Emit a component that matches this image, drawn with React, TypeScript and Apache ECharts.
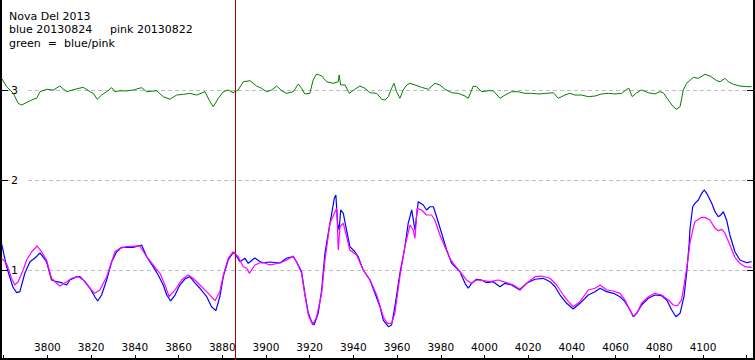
import React, { useEffect, useRef } from "react";
import * as echarts from "echarts";

// ---- Data ----
const titleLine1 = "Nova Del 2013";
const titleBlue = "blue 20130824";
const titlePink = "pink 20130822";
const titleLine3 = "green  =  blue/pink";

const xLabelValues = [3800, 3820, 3840, 3860, 3880, 3900, 3920, 3940, 3960, 3980, 4000, 4020, 4040, 4060, 4080, 4100];
const xTickValues = [3780, 3800, 3820, 3840, 3860, 3880, 3900, 3920, 3940, 3960, 3980, 4000, 4020, 4040, 4060, 4080, 4100, 4120];
const yLabelValues = [1, 2, 3];
const markerWavelength = 3886;

const blueWl = [3779.0,3781.3,3784.2,3785.9,3787.4,3789.7,3792.0,3794.3,3796.6,3797.9,3799.6,3801.9,3804.2,3806.5,3808.8,3810.3,3813.4,3814.9,3817.2,3819.5,3821.7,3823.0,3824.8,3827.1,3829.4,3831.7,3834.0,3836.2,3839.3,3843.1,3845.4,3848.4,3850.7,3853.0,3854.6,3856.4,3858.4,3860.6,3862.9,3865.2,3867.5,3869.8,3872.9,3875.1,3877.1,3878.9,3880.5,3882.7,3884.8,3885.8,3888.1,3890.4,3891.9,3894.9,3898.2,3901.8,3906.4,3909.6,3912.5,3914.0,3916.3,3917.8,3919.4,3920.9,3922.0,3923.9,3925.5,3927.0,3928.5,3930.1,3931.3,3932.0,3932.8,3933.5,3934.2,3935.4,3936.9,3938.4,3940.7,3942.2,3944.5,3947.6,3949.9,3952.2,3953.7,3956.0,3957.5,3959.0,3961.3,3963.6,3965.1,3966.7,3968.2,3969.7,3972.0,3973.5,3975.1,3976.6,3978.1,3980.4,3982.7,3985.0,3988.8,3991.1,3992.6,3994.1,3996.4,3998.7,4001.0,4004.0,4007.1,4009.4,4012.4,4016.2,4019.3,4023.1,4026.9,4030.0,4032.3,4034.6,4037.6,4040.6,4043.7,4047.5,4050.6,4052.9,4055.9,4059.0,4062.0,4064.3,4066.6,4068.1,4069.7,4071.9,4075.0,4078.0,4081.1,4083.4,4085.7,4087.6,4089.5,4091.3,4092.5,4093.7,4094.0,4095.3,4096.3,4097.9,4099.4,4100.5,4101.7,4104.0,4105.5,4107.0,4108.1,4109.3,4110.8,4112.3,4114.6,4116.9,4120.0,4122.3];
const blueVal = [1.297,1.037,0.811,0.748,0.759,0.967,1.092,1.133,1.189,1.148,1.092,0.889,0.870,0.859,0.833,0.889,0.926,0.926,0.870,0.797,0.703,0.656,0.722,0.889,1.092,1.203,1.252,1.252,1.252,1.278,1.148,1.037,0.944,0.833,0.722,0.656,0.722,0.833,0.900,0.926,0.856,0.797,0.703,0.592,0.548,0.703,0.926,1.111,1.186,1.186,1.092,1.130,1.074,1.133,1.078,1.089,1.078,1.133,1.148,1.092,0.981,0.741,0.519,0.426,0.389,0.519,0.778,1.186,1.408,1.630,1.797,1.833,1.519,1.444,1.667,1.630,1.444,1.259,1.203,1.148,1.000,0.889,0.741,0.592,0.444,0.370,0.389,0.592,0.963,1.259,1.519,1.667,1.444,1.759,1.722,1.667,1.703,1.703,1.592,1.408,1.222,1.074,0.981,0.852,0.797,0.852,0.897,0.889,0.859,0.870,0.814,0.852,0.833,0.778,0.852,0.897,0.908,0.870,0.814,0.722,0.630,0.567,0.630,0.722,0.759,0.797,0.759,0.741,0.703,0.648,0.556,0.481,0.519,0.611,0.686,0.722,0.714,0.667,0.556,0.481,0.519,0.703,0.963,1.297,1.444,1.703,1.741,1.778,1.852,1.889,1.852,1.741,1.648,1.592,1.611,1.648,1.556,1.389,1.203,1.111,1.081,1.092];

const pinkWl = [3779.0,3781.3,3783.6,3785.1,3786.6,3788.9,3790.5,3792.8,3795.3,3797.3,3799.6,3801.9,3804.2,3805.7,3808.8,3811.1,3814.1,3816.4,3819.5,3821.7,3824.0,3827.1,3829.4,3830.9,3833.2,3836.2,3842.3,3845.4,3848.4,3851.5,3853.8,3855.7,3858.4,3861.4,3864.4,3866.7,3869.8,3873.6,3876.7,3878.9,3880.5,3882.7,3885.0,3887.3,3889.6,3891.2,3892.4,3894.9,3898.2,3901.8,3906.4,3909.6,3912.5,3914.0,3916.3,3917.8,3919.4,3921.4,3923.2,3925.5,3927.0,3929.3,3931.6,3932.4,3933.1,3933.9,3935.4,3936.9,3938.4,3941.5,3944.5,3947.6,3950.7,3953.7,3955.5,3957.5,3959.0,3961.3,3963.6,3965.9,3967.4,3968.2,3969.2,3971.2,3973.5,3975.8,3977.3,3979.6,3981.9,3984.2,3985.7,3988.8,3991.8,3994.1,3996.4,3999.4,4002.5,4006.3,4010.2,4013.2,4016.2,4019.3,4023.1,4026.2,4030.0,4033.0,4036.1,4038.4,4040.6,4043.7,4047.5,4050.6,4052.9,4055.9,4059.0,4062.0,4064.3,4066.6,4068.1,4069.7,4071.9,4075.0,4078.0,4081.1,4084.1,4086.4,4088.2,4090.2,4091.7,4093.3,4094.0,4095.3,4096.3,4097.9,4099.4,4100.9,4103.2,4105.5,4107.0,4108.6,4110.1,4112.3,4114.6,4116.9,4119.2,4122.3];
const pinkVal = [1.130,1.074,0.908,0.833,0.870,1.000,1.111,1.203,1.267,1.203,1.111,0.908,0.852,0.822,0.870,0.908,0.926,0.889,0.797,0.741,0.778,0.926,1.092,1.203,1.241,1.259,1.267,1.148,1.056,0.963,0.833,0.703,0.778,0.889,0.944,0.908,0.833,0.741,0.659,0.759,0.944,1.130,1.203,1.148,1.037,1.019,0.963,1.056,1.089,1.056,1.078,1.111,1.156,1.092,0.963,0.722,0.500,0.389,0.481,0.741,1.111,1.519,1.648,1.685,1.222,1.481,1.519,1.370,1.222,1.167,1.000,0.889,0.722,0.481,0.408,0.408,0.519,0.926,1.259,1.500,1.444,1.352,1.685,1.667,1.611,1.611,1.556,1.389,1.259,1.130,1.074,0.981,0.889,0.852,0.889,0.881,0.870,0.889,0.859,0.833,0.786,0.852,0.926,0.933,0.908,0.833,0.722,0.648,0.592,0.648,0.778,0.797,0.833,0.778,0.767,0.741,0.667,0.556,0.489,0.519,0.630,0.703,0.741,0.722,0.667,0.611,0.600,0.667,0.889,1.148,1.297,1.444,1.537,1.563,1.585,1.585,1.556,1.463,1.437,1.452,1.408,1.278,1.141,1.074,1.037,1.030];

const greenWl = [3779.0,3781.3,3784.4,3786.6,3788.2,3791.2,3793.5,3795.1,3796.6,3799.6,3802.7,3805.7,3808.8,3812.6,3816.4,3819.5,3821.0,3822.8,3824.8,3827.1,3829.4,3830.9,3833.2,3836.2,3839.3,3843.1,3845.4,3850.0,3853.0,3856.1,3859.1,3862.2,3865.2,3868.3,3872.1,3874.4,3875.9,3878.2,3880.5,3882.7,3885.0,3887.3,3889.6,3892.7,3895.7,3898.0,3900.3,3902.6,3904.9,3907.2,3909.5,3912.5,3914.8,3916.3,3917.8,3920.1,3921.6,3923.2,3925.5,3927.8,3930.8,3933.1,3933.5,3934.2,3936.2,3938.1,3940.7,3943.0,3945.3,3947.6,3950.7,3953.0,3954.5,3956.0,3957.5,3958.6,3959.8,3961.3,3962.8,3964.4,3965.9,3968.2,3971.2,3974.3,3977.3,3979.6,3981.9,3985.0,3988.0,3991.1,3992.6,3994.9,3996.4,3998.7,4001.7,4004.0,4007.1,4009.4,4012.4,4015.5,4018.5,4021.6,4024.6,4028.5,4031.5,4033.8,4036.8,4039.1,4041.4,4044.5,4047.5,4050.6,4053.6,4056.7,4059.7,4062.8,4065.1,4066.1,4067.6,4069.7,4071.9,4075.0,4078.0,4080.3,4081.8,4084.1,4086.4,4087.9,4089.5,4091.0,4092.5,4095.6,4097.9,4100.9,4103.2,4106.3,4107.8,4110.1,4111.6,4113.9,4116.9,4120.0,4122.3];
const greenVal = [3.133,3.037,2.963,2.852,2.833,2.870,2.897,2.908,2.981,3.008,3.000,3.044,2.981,3.008,3.030,2.981,2.963,2.897,2.944,2.981,3.026,2.981,2.992,2.989,3.000,3.026,2.981,2.992,2.926,2.897,2.944,2.952,2.963,2.944,2.981,2.870,2.814,2.908,2.981,3.000,2.970,3.000,3.092,3.103,3.044,3.019,2.981,3.000,3.044,2.992,2.963,2.981,3.067,3.019,2.956,2.963,3.111,3.178,3.156,3.092,3.074,3.092,3.167,3.056,3.056,2.963,3.008,3.044,3.019,2.970,2.963,2.897,2.889,2.926,3.019,3.074,2.981,2.908,3.000,3.056,3.074,3.056,3.030,3.008,3.074,3.056,3.008,2.970,2.963,2.933,2.908,3.044,3.037,2.981,2.992,2.992,2.908,2.944,2.981,2.981,2.963,2.963,2.956,2.963,2.970,2.908,2.944,2.963,2.944,2.944,2.926,2.933,2.956,2.963,2.956,2.963,3.008,3.019,2.926,2.970,3.000,2.970,2.956,2.981,2.970,2.889,2.814,2.786,2.814,3.000,3.074,3.141,3.130,3.174,3.156,3.103,3.092,3.130,3.092,3.063,3.044,3.037,3.037];

const X_MIN = 3778.3;
const X_MAX = 4123.8;

const pairs = (xs: number[], ys: number[]) => xs.map((x, i) => [x, ys[i]]);

const FONT = "DejaVu Sans";

export default function App() {
  const ref = useRef<HTMLDivElement>(null);
  useEffect(() => {
    document.body.style.margin = "0";
    if (!ref.current) return;
    const chart = echarts.init(ref.current, undefined, { renderer: "svg" });
    const frameLine = { show: true, lineStyle: { color: "#000", width: 4 } };
    const plain = (v: number) => String(v);
    const option: any = {
      animation: false,
      backgroundColor: "#fff",
      grid: { left: 0, right: 0, top: 0, bottom: 0, containLabel: false },
      xAxis: [
        {
          type: "value", min: X_MIN, max: X_MAX, position: "bottom",
          axisLine: frameLine,
          axisTick: { show: true, inside: true, length: 5, customValues: xTickValues, lineStyle: { color: "#000", width: 1 } },
          axisLabel: { show: true, inside: true, margin: 8, customValues: xLabelValues, formatter: plain, color: "#000", fontFamily: FONT, fontSize: 10.5 },
          splitLine: { show: false },
        },
        {
          type: "value", min: X_MIN, max: X_MAX, position: "top",
          axisLine: frameLine,
          axisTick: { show: true, inside: true, length: 6, customValues: xTickValues, lineStyle: { color: "#000", width: 1 } },
          axisLabel: { show: false },
          splitLine: { show: false },
        },
      ],
      yAxis: [
        {
          type: "value", min: 0, max: 4, interval: 1, position: "left",
          axisLine: frameLine,
          axisTick: { show: true, inside: true, length: 8, customValues: yLabelValues, lineStyle: { color: "#000", width: 1 } },
          axisLabel: {
            show: true, inside: true, margin: 10, customValues: yLabelValues, formatter: plain, color: "#000",
            fontFamily: FONT, fontSize: 11, backgroundColor: "#fff", padding: [0, 8, 0, 1],
          },
          splitLine: { show: true, lineStyle: { color: "#bdbdbd", width: 1, type: [4, 3] } },
        },
        {
          type: "value", min: 0, max: 4, interval: 1, position: "right",
          axisLine: frameLine,
          axisTick: { show: true, inside: true, length: 8, customValues: yLabelValues, lineStyle: { color: "#000", width: 1 } },
          axisLabel: { show: false },
          splitLine: { show: false },
        },
      ],
      series: [
        {
          type: "line", name: "green", data: pairs(greenWl, greenVal), showSymbol: false, symbol: "none",
          lineStyle: { color: "#008000", width: 1 }, silent: true,
        },
        {
          type: "line", name: "blue", data: pairs(blueWl, blueVal), showSymbol: false, symbol: "none",
          lineStyle: { color: "#0000ff", width: 1.2 }, silent: true,
        },
        {
          type: "line", name: "pink", data: pairs(pinkWl, pinkVal), showSymbol: false, symbol: "none",
          lineStyle: { color: "#ff00ff", width: 1.2 }, silent: true,
          markLine: {
            silent: true, symbol: ["none", "none"], label: { show: false },
            lineStyle: { color: "#b00000", width: 1, type: "solid" },
            data: [{ xAxis: markerWavelength }],
          },
        },
      ],
      graphic: [
        { type: "text", x: 9, y: 16, style: { text: titleLine1, font: `11px '${FONT}'`, fill: "#000", verticalAlign: "middle" } },
        { type: "text", x: 9, y: 29.5, style: { text: titleBlue, font: `11px '${FONT}'`, fill: "#000", verticalAlign: "middle" } },
        { type: "text", x: 110, y: 29.5, style: { text: titlePink, font: `11px '${FONT}'`, fill: "#000", verticalAlign: "middle" } },
        { type: "text", x: 9, y: 43, style: { text: titleLine3, font: `11px '${FONT}'`, fill: "#000", verticalAlign: "middle" } },
      ],
    };
    chart.setOption(option);
    return () => chart.dispose();
  }, []);
  return <div ref={ref} style={{ width: 755, height: 360 }} />;
}
